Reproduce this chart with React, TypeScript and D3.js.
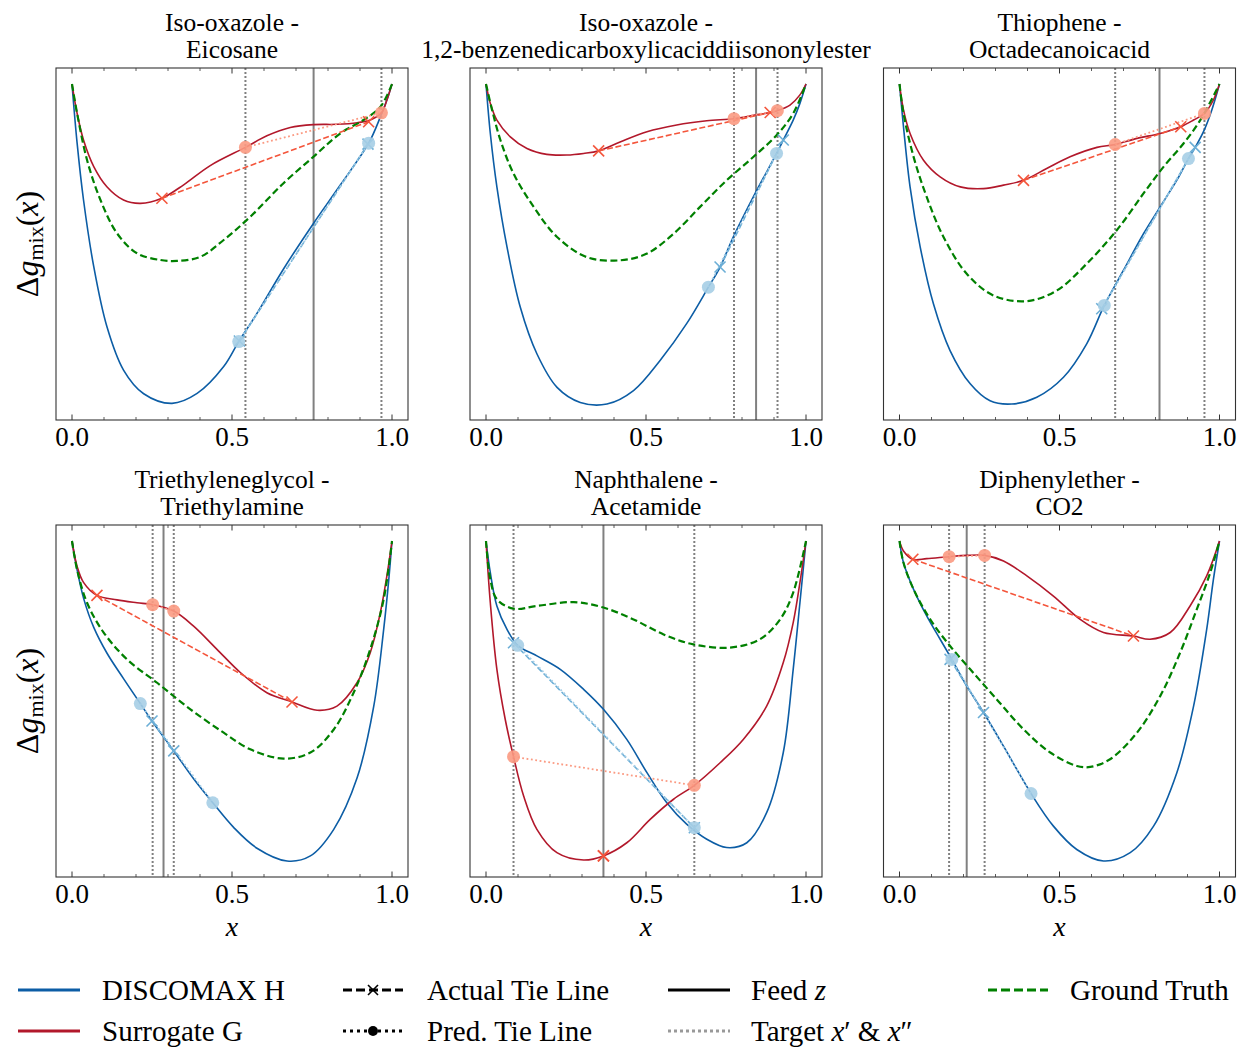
import React from 'react';
import * as d3 from 'd3';

type P = [number, number];

// ---------- Data (x, Δg_mix normalised) ----------
const titles: string[][] = [
  ['Iso-oxazole -', 'Eicosane'],
  ['Iso-oxazole -', '1,2-benzenedicarboxylicaciddiisononylester'],
  ['Thiophene -', 'Octadecanoicacid'],
  ['Triethyleneglycol -', 'Triethylamine'],
  ['Naphthalene -', 'Acetamide'],
  ['Diphenylether -', 'CO2'],
];

const feedZ: number[] = [0.755, 0.844, 0.8125, 0.286, 0.367, 0.21];
const targets: number[][] = [
  [0.542, 0.967],
  [0.775, 0.911],
  [0.674, 0.953],
  [0.252, 0.318],
  [0.086, 0.651],
  [0.155, 0.266],
];

// Panel 1
const h1: P[] = [[0,0],[0.016,-0.185],[0.036,-0.3625],[0.068,-0.571],[0.109,-0.758],[0.161,-0.894],[0.224,-0.968],[0.3125,-0.998],[0.391,-0.967],[0.474,-0.883],[0.521,-0.805],[0.578,-0.717],[0.661,-0.578],[0.755,-0.435],[0.839,-0.315],[0.927,-0.185],[0.964,-0.102],[0.984,-0.05],[1,0]];
const g1: P[] = [[0,0],[0.016,-0.092],[0.036,-0.175],[0.068,-0.258],[0.109,-0.321],[0.161,-0.3625],[0.214,-0.373],[0.281,-0.357],[0.349,-0.315],[0.432,-0.255],[0.542,-0.198],[0.609,-0.162],[0.682,-0.136],[0.755,-0.127],[0.828,-0.126],[0.891,-0.121],[0.932,-0.1125],[0.967,-0.09],[0.984,-0.05],[1,0]];
const t1: P[] = [[0,0],[0.016,-0.092],[0.047,-0.2375],[0.089,-0.3625],[0.141,-0.467],[0.203,-0.529],[0.276,-0.55],[0.328,-0.553],[0.401,-0.54],[0.474,-0.4875],[0.557,-0.415],[0.661,-0.31],[0.755,-0.227],[0.839,-0.154],[0.911,-0.1125],[0.964,-0.071],[1,0]];
const gAct1: P[] = [[0.281,-0.357],[0.927,-0.118]];
const gPred1: P[] = [[0.542,-0.198],[0.967,-0.09]];
const hAct1: P[] = [[0.523,-0.803],[0.925,-0.188]];
const hPred1: P[] = [[0.521,-0.805],[0.927,-0.185]];

// Panel 2
const h2: P[] = [[0,0],[0.0135,-0.1545],[0.034,-0.3215],[0.0656,-0.509],[0.107,-0.697],[0.159,-0.843],[0.222,-0.948],[0.2945,-0.995],[0.378,-1.0],[0.461,-0.958],[0.544,-0.864],[0.627,-0.749],[0.695,-0.635],[0.7315,-0.572],[0.773,-0.478],[0.841,-0.342],[0.908,-0.217],[0.929,-0.175],[0.96,-0.113],[0.981,-0.0605],[1,0]];
const g2: P[] = [[0,0],[0.0135,-0.0605],[0.034,-0.113],[0.076,-0.165],[0.128,-0.2015],[0.19,-0.22],[0.253,-0.222],[0.305,-0.217],[0.352,-0.209],[0.419,-0.181],[0.503,-0.149],[0.596,-0.128],[0.69,-0.115],[0.775,-0.1085],[0.836,-0.098],[0.888,-0.089],[0.9105,-0.0835],[0.95,-0.066],[0.981,-0.034],[1,0]];
const t2: P[] = [[0,0],[0.019,-0.081],[0.045,-0.175],[0.086,-0.28],[0.149,-0.384],[0.222,-0.478],[0.315,-0.541],[0.419,-0.551],[0.503,-0.53],[0.586,-0.468],[0.669,-0.384],[0.752,-0.301],[0.836,-0.2275],[0.908,-0.16],[0.96,-0.092],[1,0]];
const gAct2: P[] = [[0.352,-0.209],[0.888,-0.089]];
const gPred2: P[] = [[0.775,-0.1085],[0.9105,-0.0835]];
const hAct2: P[] = [[0.7315,-0.572],[0.929,-0.175]];
const hPred2: P[] = [[0.695,-0.635],[0.908,-0.217]];

// Panel 3
const h3: P[] = [[0,0],[0.0125,-0.134],[0.033,-0.3215],[0.0646,-0.509],[0.106,-0.687],[0.158,-0.833],[0.221,-0.937],[0.283,-0.99],[0.351,-1.0],[0.429,-0.979],[0.5125,-0.9165],[0.585,-0.812],[0.64,-0.692],[0.7,-0.582],[0.7625,-0.468],[0.8146,-0.384],[0.8667,-0.3006],[0.903,-0.233],[0.924,-0.198],[0.95,-0.149],[0.976,-0.081],[1,0]];
const g3: P[] = [[0,0],[0.0125,-0.081],[0.033,-0.1545],[0.075,-0.238],[0.127,-0.29],[0.19,-0.3215],[0.2625,-0.327],[0.325,-0.316],[0.3875,-0.301],[0.46,-0.264],[0.533,-0.2275],[0.617,-0.198],[0.674,-0.189],[0.742,-0.17],[0.8146,-0.1545],[0.879,-0.1336],[0.919,-0.1127],[0.953,-0.092],[0.981,-0.05],[1,0]];
const t3: P[] = [[0,0],[0.0125,-0.092],[0.044,-0.2276],[0.085,-0.353],[0.1375,-0.478],[0.21,-0.593],[0.294,-0.661],[0.398,-0.6785],[0.492,-0.645],[0.585,-0.5616],[0.679,-0.457],[0.7625,-0.342],[0.825,-0.259],[0.8875,-0.186],[0.94,-0.113],[1,0]];
const gAct3: P[] = [[0.3875,-0.301],[0.879,-0.1336]];
const gPred3: P[] = [[0.674,-0.189],[0.953,-0.092]];
const hAct3: P[] = [[0.632,-0.7025],[0.924,-0.198]];
const hPred3: P[] = [[0.64,-0.692],[0.903,-0.233]];

// Panel 4
const h4: P[] = [[0,0],[0.0156,-0.0885],[0.0365,-0.18],[0.068,-0.27],[0.109,-0.35],[0.161,-0.43],[0.2135,-0.508],[0.25,-0.5625],[0.318,-0.656],[0.38,-0.743],[0.44,-0.818],[0.505,-0.895],[0.578,-0.96],[0.672,-1.0],[0.745,-0.984],[0.818,-0.901],[0.891,-0.74],[0.943,-0.516],[0.974,-0.276],[0.99,-0.12],[1,0]];
const g4: P[] = [[0,0],[0.0156,-0.078],[0.0365,-0.13],[0.078,-0.17],[0.1406,-0.184],[0.203,-0.193],[0.252,-0.199],[0.318,-0.219],[0.38,-0.266],[0.453,-0.3385],[0.526,-0.411],[0.609,-0.474],[0.6875,-0.503],[0.766,-0.529],[0.828,-0.516],[0.8906,-0.443],[0.932,-0.349],[0.9635,-0.224],[0.984,-0.109],[1,0]];
const t4: P[] = [[0,0],[0.0156,-0.0885],[0.047,-0.193],[0.099,-0.286],[0.172,-0.37],[0.266,-0.443],[0.37,-0.526],[0.474,-0.599],[0.557,-0.651],[0.661,-0.68],[0.745,-0.661],[0.818,-0.589],[0.88,-0.474],[0.932,-0.3385],[0.974,-0.182],[1,0]];
const gAct4: P[] = [[0.078,-0.17],[0.6875,-0.503]];
const gPred4: P[] = [[0.252,-0.199],[0.318,-0.219]];
const hAct4: P[] = [[0.25,-0.5625],[0.318,-0.656]];
const hPred4: P[] = [[0.2135,-0.508],[0.44,-0.818]];

// Panel 5
const h5: P[] = [[0,0],[0.0135,-0.099],[0.034,-0.203],[0.0656,-0.276],[0.099,-0.326],[0.159,-0.359],[0.232,-0.401],[0.305,-0.4635],[0.367,-0.526],[0.44,-0.62],[0.503,-0.724],[0.565,-0.818],[0.627,-0.885],[0.69,-0.932],[0.752,-0.958],[0.815,-0.943],[0.877,-0.849],[0.929,-0.661],[0.96,-0.401],[0.981,-0.193],[1,0]];
const g5: P[] = [[0,0],[0.0135,-0.193],[0.034,-0.401],[0.06,-0.557],[0.086,-0.674],[0.1176,-0.797],[0.159,-0.901],[0.2216,-0.974],[0.305,-0.997],[0.367,-0.984],[0.44,-0.943],[0.513,-0.87],[0.586,-0.807],[0.651,-0.7635],[0.7315,-0.693],[0.804,-0.62],[0.877,-0.516],[0.929,-0.38],[0.96,-0.255],[0.981,-0.13],[1,0]];
const t5: P[] = [[0,0],[0.0135,-0.12],[0.034,-0.182],[0.086,-0.2115],[0.159,-0.203],[0.274,-0.191],[0.367,-0.208],[0.461,-0.245],[0.555,-0.292],[0.648,-0.323],[0.763,-0.333],[0.856,-0.307],[0.919,-0.245],[0.96,-0.161],[1,0]];
const gAct5: P[] = [[0.367,-0.984],[0.367,-0.984]];
const gPred5: P[] = [[0.086,-0.674],[0.651,-0.7635]];
const hAct5: P[] = [[0.086,-0.318],[0.651,-0.896]];
const hPred5: P[] = [[0.099,-0.326],[0.651,-0.896]];

// Panel 6
const h6: P[] = [[0,0],[0.0125,-0.068],[0.044,-0.151],[0.085,-0.234],[0.127,-0.307],[0.1635,-0.37],[0.21,-0.453],[0.2625,-0.536],[0.325,-0.641],[0.411,-0.789],[0.481,-0.891],[0.554,-0.964],[0.6375,-1.0],[0.721,-0.974],[0.794,-0.891],[0.8667,-0.724],[0.919,-0.516],[0.96,-0.276],[0.981,-0.12],[1,0]];
const g6: P[] = [[0,0],[0.0125,-0.031],[0.0417,-0.057],[0.085,-0.055],[0.155,-0.049],[0.21,-0.045],[0.266,-0.045],[0.325,-0.0625],[0.398,-0.109],[0.481,-0.172],[0.5646,-0.245],[0.6375,-0.286],[0.731,-0.297],[0.783,-0.307],[0.846,-0.286],[0.908,-0.203],[0.96,-0.109],[1,0]];
const t6: P[] = [[0,0],[0.0125,-0.068],[0.044,-0.151],[0.096,-0.245],[0.158,-0.328],[0.221,-0.401],[0.304,-0.495],[0.3875,-0.5885],[0.471,-0.661],[0.554,-0.703],[0.596,-0.706],[0.658,-0.682],[0.742,-0.599],[0.815,-0.484],[0.877,-0.349],[0.929,-0.2135],[0.971,-0.099],[1,0]];
const gAct6: P[] = [[0.0417,-0.057],[0.731,-0.297]];
const gPred6: P[] = [[0.155,-0.049],[0.266,-0.045]];
const hAct6: P[] = [[0.158,-0.37],[0.2625,-0.536]];
const hPred6: P[] = [[0.1635,-0.37],[0.411,-0.789]];

const xTicksMajor: number[] = [0, 0.5, 1.0];
const xTickLabels: string[] = ['0.0', '0.5', '1.0'];
const xTicksMinor: number[] = [0.1, 0.2, 0.3, 0.4, 0.6, 0.7, 0.8, 0.9];

const hCurves = [h1, h2, h3, h4, h5, h6];
const gCurves = [g1, g2, g3, g4, g5, g6];
const tCurves = [t1, t2, t3, t4, t5, t6];
const gActs = [gAct1, gAct2, gAct3, gAct4, gAct5, gAct6];
const gPreds = [gPred1, gPred2, gPred3, gPred4, gPred5, gPred6];
const hActs = [hAct1, hAct2, hAct3, hAct4, hAct5, hAct6];
const hPreds = [hPred1, hPred2, hPred3, hPred4, hPred5, hPred6];

// ---------- Styling ----------
const FONT = "'Liberation Serif', 'Times New Roman', serif";
const C_H = '#0C5DA5';
const C_G = '#B2182B';
const C_T = '#008000';
const C_GACT = '#F4553B';
const C_GPRED = '#FB9A82';
const C_HACT = '#6BAED6';
const C_HPRED = '#A6CEE6';

const colLeft = [56, 470, 883.5];
const rowTop = [68, 525];
const PW = 352;
const PH = 352;

const XMark: React.FC<{ cx: number; cy: number; color: string; s?: number }> = ({ cx, cy, color, s = 5.5 }) => (
  <g stroke={color} strokeWidth={1.6}>
    <line x1={cx - s} y1={cy - s} x2={cx + s} y2={cy + s} />
    <line x1={cx - s} y1={cy + s} x2={cx + s} y2={cy - s} />
  </g>
);

const Panel: React.FC<{ i: number }> = ({ i }) => {
  const left = colLeft[i % 3];
  const top = rowTop[Math.floor(i / 3)];
  const x = d3.scaleLinear().domain([-0.05, 1.05]).range([left, left + PW]);
  const y = d3.scaleLinear().domain([-1.05, 0.05]).range([top + PH, top]);
  const line = d3.line<P>().x(d => x(d[0])).y(d => y(d[1])).curve(d3.curveCatmullRom.alpha(0.5));
  const seg = d3.line<P>().x(d => x(d[0])).y(d => y(d[1]));
  const cx = left + PW / 2;
  const bottom = top + PH;
  return (
    <g>
      <text x={cx} y={top - 37} textAnchor="middle" fontSize={25.5} fontFamily={FONT}>{titles[i][0]}</text>
      <text x={cx} y={top - 10} textAnchor="middle" fontSize={25.5} fontFamily={FONT}>{titles[i][1]}</text>
      {targets[i].map((t, k) => (
        <line key={'t' + k} x1={x(t)} x2={x(t)} y1={top} y2={bottom} stroke="#808080" strokeWidth={2} strokeDasharray="2,2" />
      ))}
      <line x1={x(feedZ[i])} x2={x(feedZ[i])} y1={top} y2={bottom} stroke="#808080" strokeWidth={2} />
      <path d={line(hCurves[i]) || ''} fill="none" stroke={C_H} strokeWidth={1.6} />
      <path d={line(gCurves[i]) || ''} fill="none" stroke={C_G} strokeWidth={1.6} />
      <path d={line(tCurves[i]) || ''} fill="none" stroke={C_T} strokeWidth={2.2} strokeDasharray="7,3.5" />
      <path d={seg(hActs[i]) || ''} fill="none" stroke={C_HACT} strokeWidth={1.6} strokeDasharray="6,2.6" />
      <path d={seg(hPreds[i]) || ''} fill="none" stroke={C_HPRED} strokeWidth={1.8} strokeDasharray="1.8,2.6" />
      <path d={seg(gActs[i]) || ''} fill="none" stroke={C_GACT} strokeWidth={1.6} strokeDasharray="6,2.6" />
      <path d={seg(gPreds[i]) || ''} fill="none" stroke={C_GPRED} strokeWidth={1.8} strokeDasharray="1.8,2.6" />
      {hActs[i].map((p, k) => <XMark key={'ha' + k} cx={x(p[0])} cy={y(p[1])} color={C_HACT} />)}
      {gActs[i].map((p, k) => <XMark key={'ga' + k} cx={x(p[0])} cy={y(p[1])} color={C_GACT} />)}
      {hPreds[i].map((p, k) => <circle key={'hp' + k} cx={x(p[0])} cy={y(p[1])} r={6.5} fill={C_HPRED} opacity={0.9} />)}
      {gPreds[i].map((p, k) => <circle key={'gp' + k} cx={x(p[0])} cy={y(p[1])} r={6.5} fill={C_GPRED} opacity={0.9} />)}
      <rect x={left} y={top} width={PW} height={PH} fill="none" stroke="#333" strokeWidth={1.1} />
      {xTicksMajor.map((t, k) => (
        <g key={'M' + k}>
          <line x1={x(t)} x2={x(t)} y1={bottom} y2={bottom - 5.5} stroke="#333" strokeWidth={1} />
          <line x1={x(t)} x2={x(t)} y1={top} y2={top + 5.5} stroke="#333" strokeWidth={1} />
          <text x={x(t)} y={bottom + 26} textAnchor="middle" fontSize={27} fontFamily={FONT}>{xTickLabels[k]}</text>
        </g>
      ))}
      {xTicksMinor.map((t, k) => (
        <g key={'m' + k}>
          <line x1={x(t)} x2={x(t)} y1={bottom} y2={bottom - 3} stroke="#333" strokeWidth={0.8} />
          <line x1={x(t)} x2={x(t)} y1={top} y2={top + 3} stroke="#333" strokeWidth={0.8} />
        </g>
      ))}
      {i >= 3 && (
        <text x={cx} y={bottom + 59} textAnchor="middle" fontSize={28} fontFamily={FONT} fontStyle="italic">x</text>
      )}
      {i % 3 === 0 && (
        <text transform={`translate(38, ${top + PH / 2}) rotate(-90)`} textAnchor="middle" fontSize={32} fontFamily={FONT}>
          <tspan>Δ</tspan>
          <tspan fontStyle="italic">g</tspan>
          <tspan fontSize={22} dy={5}>mix</tspan>
          <tspan dy={-5}>(</tspan>
          <tspan fontStyle="italic">x</tspan>
          <tspan>)</tspan>
        </text>
      )}
    </g>
  );
};

const Legend: React.FC = () => {
  const fs = 29;
  const r1 = 990;
  const r2 = 1031;
  const ty = 10;
  return (
    <g fontFamily={FONT} fontSize={fs}>
      <line x1={18} x2={80} y1={r1} y2={r1} stroke={C_H} strokeWidth={3} />
      <text x={102} y={r1 + ty}>DISCOMAX H</text>
      <line x1={18} x2={80} y1={r2} y2={r2} stroke={C_G} strokeWidth={3} />
      <text x={102} y={r2 + ty}>Surrogate G</text>

      <line x1={343} x2={403} y1={r1} y2={r1} stroke="#000" strokeWidth={3} strokeDasharray="9,4" />
      <XMark cx={373} cy={r1} color="#000" s={5} />
      <text x={427} y={r1 + ty}>Actual Tie Line</text>
      <line x1={343} x2={403} y1={r2} y2={r2} stroke="#000" strokeWidth={3} strokeDasharray="3,4" />
      <circle cx={373} cy={r2} r={5} fill="#000" />
      <text x={427} y={r2 + ty}>Pred. Tie Line</text>

      <line x1={668} x2={730} y1={r1} y2={r1} stroke="#000" strokeWidth={3} />
      <text x={751} y={r1 + ty}>Feed <tspan fontStyle="italic">z</tspan></text>
      <line x1={668} x2={730} y1={r2} y2={r2} stroke="#999" strokeWidth={3} strokeDasharray="3,3" />
      <text x={751} y={r2 + ty}>Target <tspan fontStyle="italic">x</tspan>′ &amp; <tspan fontStyle="italic">x</tspan>″</text>

      <line x1={988} x2={1048} y1={r1} y2={r1} stroke={C_T} strokeWidth={3} strokeDasharray="9,4" />
      <text x={1070} y={r1 + ty}>Ground Truth</text>
    </g>
  );
};

export default function App() {
  return (
    <svg width={1242} height={1047} style={{ position: 'absolute', left: 0, top: 0, background: '#fff' }}>
      <rect x={0} y={0} width={1242} height={1047} fill="#fff" />
      {[0, 1, 2, 3, 4, 5].map(i => <Panel key={i} i={i} />)}
      <Legend />
    </svg>
  );
}
